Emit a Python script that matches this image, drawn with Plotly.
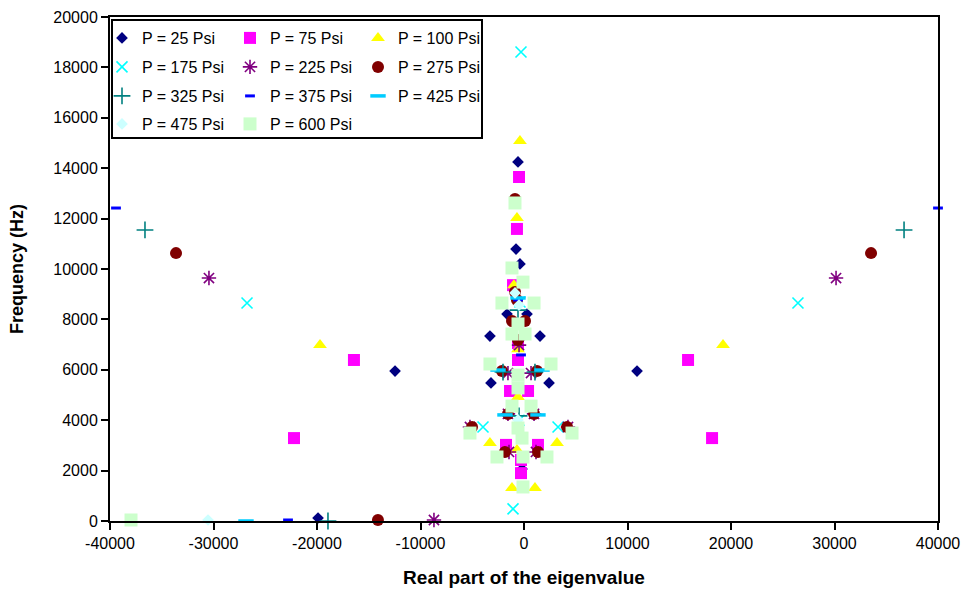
import plotly.graph_objects as go

# ---------------- data (real part, frequency) ----------------
labels = ["P = 25 Psi", "P = 75 Psi", "P = 100 Psi", "P = 175 Psi", "P = 225 Psi",
          "P = 275 Psi", "P = 325 Psi", "P = 375 Psi", "P = 425 Psi", "P = 475 Psi",
          "P = 600 Psi"]

x_25 = [-12460, 10920, -19900, -580, -770, -390, -1640, 290, -3290, 1550, -3190, 2420, -190]
y_25 = [5950, 5950, 120, 14250, 10790, 10200, 8210, 8210, 7340, 7340, 5480, 5480, 2060]

x_75 = [-16430, 15850, -22220, 18170, -480, -680, -1060, -580, -580, -1350, 390, -1740, 1350, -290, -290]
y_75 = [6390, 6390, 3290, 3290, 13650, 11590, 9360, 7060, 6390, 5160, 5160, 3020, 3020, 1900, 2420]

x_100 = [-19710, 19230, -390, -680, -970, -580, -580, -3290, 3190, -1160, 1060, -680]
y_100 = [6980, 6980, 15080, 12020, 9360, 6820, 4920, 3100, 3100, 1310, 1310, 2820]

x_175 = [-26760, 26470, -1060, -290, -3960, 3290, -390, -480]
y_175 = [8650, 8650, 480, 18610, 3730, 3730, 8690, 4000]

x_225 = [-30440, 30150, -8700, -5220, 4250, -1550, 680, -1450, 1160, -480, -1550, 970]
y_225 = [9640, 9640, 40, 3730, 3730, 5870, 5870, 2740, 2740, 6980, 4250, 4250]

x_275 = [-33620, 33530, -14110, -870, -870, -1160, 100, -680, -2130, 1260, -1550, 970,
         -5020, 4160, -1840, 1350, -580]
y_275 = [10630, 10630, 40, 12780, 9090, 7940, 7940, 8770, 5950, 5950, 4250, 4250,
         3730, 3730, 2740, 2740, 7180]

x_325 = [-36620, 36720, -18940, -580, -480, -2030, 1060]
y_325 = [11550, 11550, 0, 8370, 4170, 5910, 5910]

x_375 = [-39420, 40000, -22800, -580, -290]
y_375 = [12420, 12420, 40, 8770, 6590]

x_425 = [-26860, -2510, 1740, -1840, 1350, -580]
y_425 = [0, 5990, 5990, 4210, 4210, 8850]

x_475 = [-30530, -870, -480, -580]
y_475 = [40, 9050, 8570, 4010]

x_600 = [-37970, -870, -1160, -100, -2130, 970, -580, -1160, 100, -3290, 2610, -580, -580,
         -1160, 680, -580, -5220, 4640, -2610, 2220, -100, -190, -100]
y_600 = [40, 12620, 10040, 9480, 8650, 8650, 7820, 7420, 7420, 6230, 6230, 5790, 5280,
         4560, 4560, 3690, 3490, 3490, 2540, 2540, 2540, 3290, 1350]

x_ticks = [-40000, -30000, -20000, -10000, 0, 10000, 20000, 30000, 40000]
x_ticktext = ["-40000", "-30000", "-20000", "-10000", "0", "10000", "20000", "30000", "40000"]
y_ticks = [0, 2000, 4000, 6000, 8000, 10000, 12000, 14000, 16000, 18000, 20000]

xs = [x_25, x_75, x_100, x_175, x_225, x_275, x_325, x_375, x_425, x_475, x_600]
ys = [y_25, y_75, y_100, y_175, y_225, y_275, y_325, y_375, y_425, y_475, y_600]

# ---------------- styles ----------------
styles = [
    dict(symbol="diamond", color="#000080", size=9),
    dict(symbol="square", color="#FF00FF", size=12),
    dict(symbol="triangle-up", color="#FFFF00", size=12),
    dict(symbol="x-thin-open", color="#00FFFF", size=11, line=dict(color="#00FFFF", width=1.6)),
    dict(symbol="asterisk-open", color="#800080", size=12, line=dict(color="#800080", width=1.6)),
    dict(symbol="circle", color="#800000", size=12),
    dict(symbol="cross-thin-open", color="#008080", size=12, line=dict(color="#008080", width=1.6)),
    dict(symbol="line-ew-open", color="#0000FF", size=7, line=dict(color="#0000FF", width=3)),
    dict(symbol="line-ew-open", color="#00CCFF", size=11, line=dict(color="#00CCFF", width=3.5)),
    dict(symbol="diamond", color="#CCFFFF", size=9),
    dict(symbol="square", color="#CCFFCC", size=13),
]
legend_ids = ["legend", "legend", "legend", "legend2", "legend2", "legend2",
              "legend3", "legend3", "legend3", "legend4", "legend4"]

FONT = "Liberation Sans, Arial, sans-serif"

fig = go.Figure()
for lab, x, y, st, lg in zip(labels, xs, ys, styles, legend_ids):
    marker = dict(symbol=st["symbol"], color=st["color"], size=st["size"])
    if "line" in st:
        marker["line"] = st["line"]
    else:
        marker["line"] = dict(width=0)
    fig.add_trace(go.Scatter(x=x, y=y, mode="markers", name=lab, marker=marker,
                             legend=lg, cliponaxis=False))

# plot area: px x 110..938, y 17..521
def px_x(p):
    return (p - 110) / 828.0

def px_y(p):
    return (521 - p) / 504.0

legend_common = dict(orientation="h", xanchor="left", yanchor="middle",
                      entrywidth=83, entrywidthmode="pixels",
                      bgcolor="rgba(0,0,0,0)", borderwidth=0,
                      font=dict(family=FONT, size=16, color="#000000"),
                      itemwidth=30, tracegroupgap=0, traceorder="normal")
row_y = [38, 67, 96, 124]
lx = px_x(102)

fig.update_layout(
    width=962, height=593,
    margin=dict(l=110, r=24, t=17, b=72),
    paper_bgcolor="white", plot_bgcolor="white",
    font=dict(family=FONT, size=16, color="#000000"),
    showlegend=True,
    legend=dict(x=lx, y=px_y(row_y[0]), **legend_common),
    legend2=dict(x=lx, y=px_y(row_y[1]), **legend_common),
    legend3=dict(x=lx, y=px_y(row_y[2]), **legend_common),
    legend4=dict(x=lx, y=px_y(row_y[3]), **legend_common),
    xaxis=dict(range=[-40000, 40000], tickmode="array", tickvals=x_ticks, ticktext=x_ticktext,
               automargin=False,
               showgrid=False, zeroline=False, showline=True, linecolor="black", linewidth=2,
               mirror=True, ticks="outside", ticklen=7, tickwidth=2, tickcolor="black",
               tickfont=dict(family=FONT, size=16),
               title=dict(text="Real part of the eigenvalue", standoff=19,
                          font=dict(family=FONT, size=19, weight="bold"))),
    yaxis=dict(range=[0, 20000], tickmode="array", tickvals=y_ticks,
               ticktext=[str(v) for v in y_ticks], automargin=False,
               showgrid=False, zeroline=False, showline=True, linecolor="black", linewidth=2,
               mirror=True, ticks="outside", ticklen=7, tickwidth=2, tickcolor="black",
               tickfont=dict(family=FONT, size=16),
               title=dict(text="Frequency (Hz)", standoff=25,
                          font=dict(family=FONT, size=18, weight="bold"))),
    shapes=[dict(type="rect", xref="paper", yref="paper",
                 x0=px_x(112), x1=px_x(482), y0=px_y(138), y1=px_y(20),
                 line=dict(color="black", width=2), fillcolor="white", layer="above")],
)

fig.write_html("out.html")
